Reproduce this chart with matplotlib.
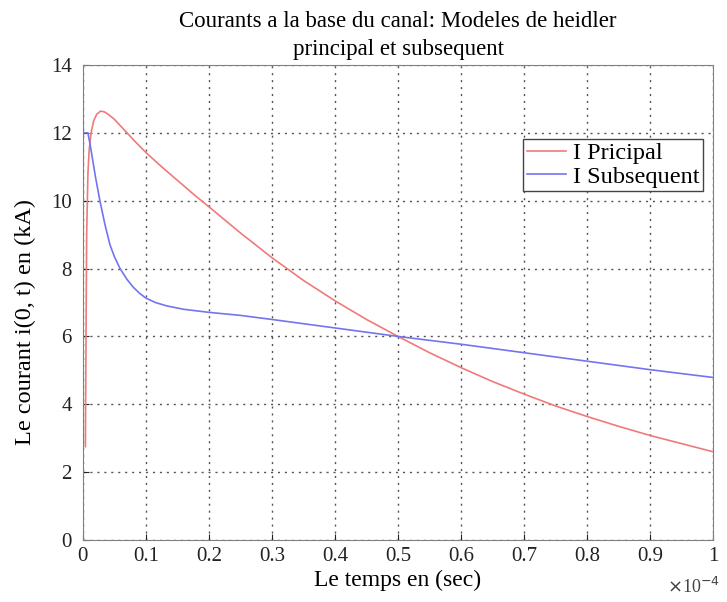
import numpy as np
import matplotlib
matplotlib.use("Agg")
import matplotlib.pyplot as plt

## DATA (time in units of 1e-4 s, current in kA) ##
t_principal = [0.004, 0.005, 0.006, 0.008, 0.010, 0.013, 0.017, 0.022, 0.028, 0.034,
               0.04, 0.05, 0.06, 0.07, 0.08, 0.1, 0.125, 0.15, 0.175, 0.2,
               0.25, 0.3, 0.35, 0.4, 0.45, 0.5, 0.55, 0.6, 0.65, 0.7,
               0.75, 0.8, 0.85, 0.9, 0.95, 1.0]
i_principal = [2.75, 6.0, 9.0, 10.8, 11.5, 12.0, 12.35, 12.55, 12.64, 12.62,
               12.55, 12.4, 12.2, 12.0, 11.8, 11.42, 11.0, 10.6, 10.2, 9.82,
               9.05, 8.32, 7.65, 7.05, 6.5, 6.0, 5.52, 5.08, 4.67, 4.3,
               3.95, 3.64, 3.35, 3.08, 2.84, 2.6]

t_subseq = [0.0, 0.0005, 0.008, 0.012, 0.016, 0.02, 0.027, 0.035, 0.043, 0.05,
            0.059, 0.07, 0.08, 0.09, 0.1, 0.115, 0.133, 0.16, 0.2, 0.25,
            0.3, 0.4, 0.5, 0.6, 0.7, 0.8, 0.9, 1.0]
i_subseq = [0.0, 12.0, 12.0, 11.6, 11.15, 10.7, 10.0, 9.3, 8.7, 8.35,
            8.0, 7.68, 7.45, 7.27, 7.13, 7.0, 6.9, 6.8, 6.71, 6.62,
            6.5, 6.25, 6.0, 5.77, 5.52, 5.27, 5.02, 4.79]

x_ticks = [0, 0.1, 0.2, 0.3, 0.4, 0.5, 0.6, 0.7, 0.8, 0.9, 1]
x_labels = ['0', '0.1', '0.2', '0.3', '0.4', '0.5', '0.6', '0.7', '0.8', '0.9', '1']
y_ticks = [0, 2, 4, 6, 8, 10, 12, 14]

plt.rcParams['font.family'] = ['Liberation Serif', 'DejaVu Serif']

fig = plt.figure(figsize=(7.27, 6.02), dpi=100)
ax = fig.add_axes([0.114, 0.103, 0.867, 0.789])

ax.plot(t_principal, i_principal, color='#f07a7a', lw=1.2, label='I Pricipal')
ax.plot(t_subseq, i_subseq, color='#7474f0', lw=1.2, label='I Subsequent')

ax.set_xlim(0, 1)
ax.set_ylim(0, 14)
ax.set_xticks(x_ticks)
ax.set_xticklabels(x_labels)
ax.set_yticks(y_ticks)
ax.tick_params(direction='in', labelsize=15, colors='#222222', length=4, pad=5)
ax.tick_params(axis='y', pad=8)
for s in ax.spines.values():
    s.set_color('#808080')
ax.grid(True, linestyle=(0, (1.5, 3.5)), color='#555555', lw=1.0)

ax.set_xlabel('Le temps en (sec)', fontsize=17, labelpad=3)
ax.set_ylabel('Le courant i(0, t) en (kA)', fontsize=17.5)
ax.yaxis.set_label_coords(-0.075, 0.46)
ax.set_title('Courants a la base du canal: Modeles de heidler\nprincipal et subsequent',
             fontsize=16.5, linespacing=1.45, pad=7)
fig.text(0.99, 0.008, r'$\times$10$^{-4}$', ha='right', va='bottom', fontsize=13, color='#444444')

leg = ax.legend(loc='upper right', bbox_to_anchor=(0.984, 0.845), fontsize=17.5,
                fancybox=False, framealpha=1, edgecolor='#444444',
                handlelength=1.6, borderpad=0.15, labelspacing=0.05, handletextpad=0.3,
                borderaxespad=0)
leg.get_frame().set_linewidth(1.0)

fig.savefig('out.png', dpi=100)
